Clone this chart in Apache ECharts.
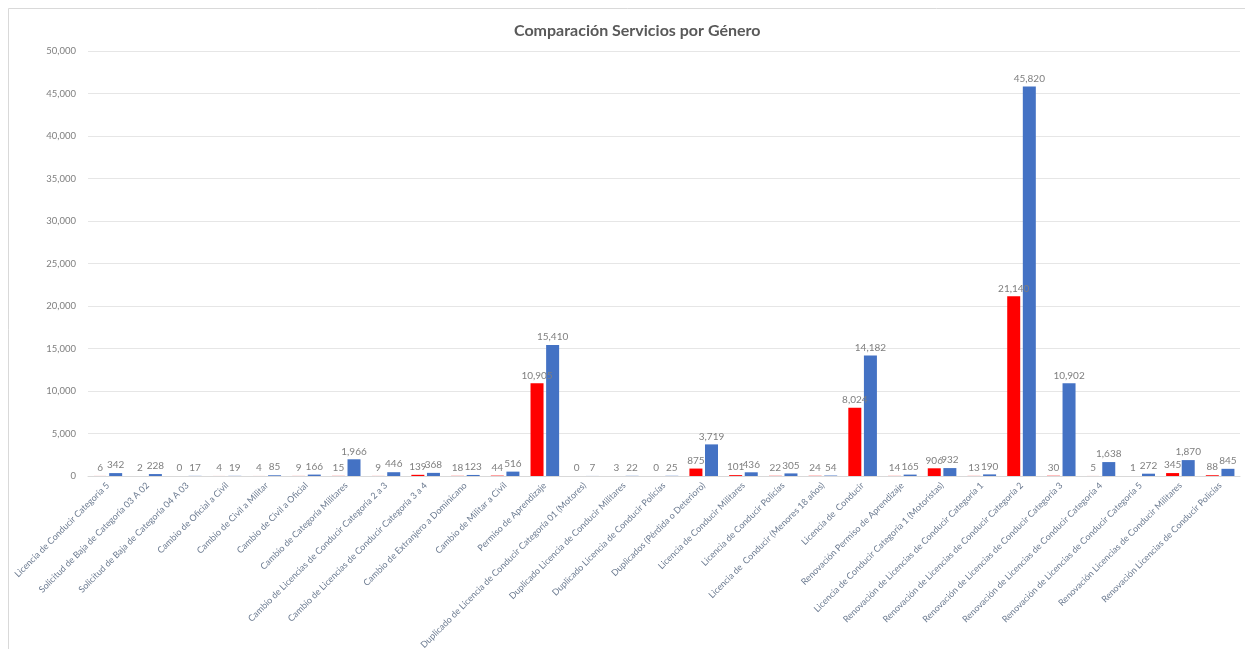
<!DOCTYPE html>
<html><head><meta charset="utf-8">
<script src="https://cdn.jsdelivr.net/npm/echarts@6/dist/echarts.min.js"></script>
<style>html,body{margin:0;padding:0;background:#fff}#c{width:1245px;height:649px}</style>
</head><body><div id="c"></div>
<script>
const categories = [
 "Licencia de Conducir Categoría 5",
 "Solicitud de Baja de Categoría 03 A 02",
 "Solicitud de Baja de Categoría 04 A 03",
 "Cambio de Oficial a Civil",
 "Cambio de Civil a Militar",
 "Cambio de Civil a Oficial",
 "Cambio de Categoría Militares",
 "Cambio de Licencias de Conducir Categoría 2 a 3",
 "Cambio de Licencias de Conducir Categoría 3 a 4",
 "Cambio de Extranjero a Dominicano",
 "Cambio de Militar a Civil",
 "Permiso de Aprendizaje",
 "Duplicado de Licencia de Conducir Categoría 01 (Motores)",
 "Duplicado Licencia de Conducir Militares",
 "Duplicado Licencia de Conducir Policías",
 "Duplicados (Pérdida o Deterioro)",
 "Licencia de Conducir Militares",
 "Licencia de Conducir Policías",
 "Licencia de  Conducir (Menores 18 años)",
 "Licencia de  Conducir",
 "Renovación Permiso de Aprendizaje",
 "Licencia de Conducir Categoría 1 (Motoristas)",
 "Renovación de Licencias de Conducir Categoría 1",
 "Renovación de Licencias de Conducir Categoría 2",
 "Renovación de Licencias de Conducir Categoría 3",
 "Renovación de Licencias de Conducir Categoría 4",
 "Renovación de Licencias de Conducir Categoría 5",
 "Renovación Licencias de Conducir Militares",
 "Renovación Licencias de Conducir Policías"
];
const femenino = [6,2,0,4,4,9,15,9,139,18,44,10905,0,3,0,875,101,22,24,8024,14,906,13,21140,30,5,1,345,88];
const masculino = [342,228,17,19,85,166,1966,446,368,123,516,15410,7,22,25,3719,436,305,54,14182,165,932,190,45820,10902,1638,272,1870,845];
const yTicks = {min:0, max:50000, interval:5000};

const fontFam = 'Lato, "Open Sans", sans-serif';
const fmt = v => v.toLocaleString('en-US');
const lbl = {show:true, position:'top', distance:3, color:'#7f7f7f', fontSize:10, fontFamily:fontFam, formatter:p=>fmt(p.value)};

const chart = echarts.init(document.getElementById('c'));
chart.setOption({
  animation:false,
  backgroundColor:'#fff',
  graphic:[{type:'rect', shape:{x:8.5,y:8.5,width:1300,height:700}, style:{fill:'none', stroke:'#d9d9d9', lineWidth:1}, z:-10}],
  title:{text:'Comparación Servicios por Género', left:509, top:18,
    textStyle:{color:'#595959', fontSize:16, fontWeight:'bold', fontFamily:fontFam}},
  grid:{left:88, right:5, top:51, bottom:173, containLabel:false, outerBoundsMode:'none'},
  xAxis:{type:'category', data:categories,
    axisLine:{lineStyle:{color:'#d9d9d9'}}, axisTick:{show:false},
    axisLabel:{interval:0, rotate:45, color:'#6b7a90', fontSize:9, fontFamily:fontFam, margin:8}},
  yAxis:{type:'value', min:yTicks.min, max:yTicks.max, interval:yTicks.interval,
    axisLine:{show:false}, axisTick:{show:false},
    axisLabel:{color:'#7f7f7f', fontSize:9.5, fontFamily:fontFam, formatter:v=>fmt(v), margin:12},
    splitLine:{lineStyle:{color:'#e6e6e6'}}},
  series:[
    {name:'Femenino', type:'bar', data:femenino, itemStyle:{color:'#ff0000'}, barGap:'20%', barCategoryGap:'28%', label:lbl},
    {name:'Masculino', type:'bar', data:masculino, itemStyle:{color:'#4472c4'}, barGap:'20%', barCategoryGap:'28%', label:lbl}
  ]
});
</script></body></html>
